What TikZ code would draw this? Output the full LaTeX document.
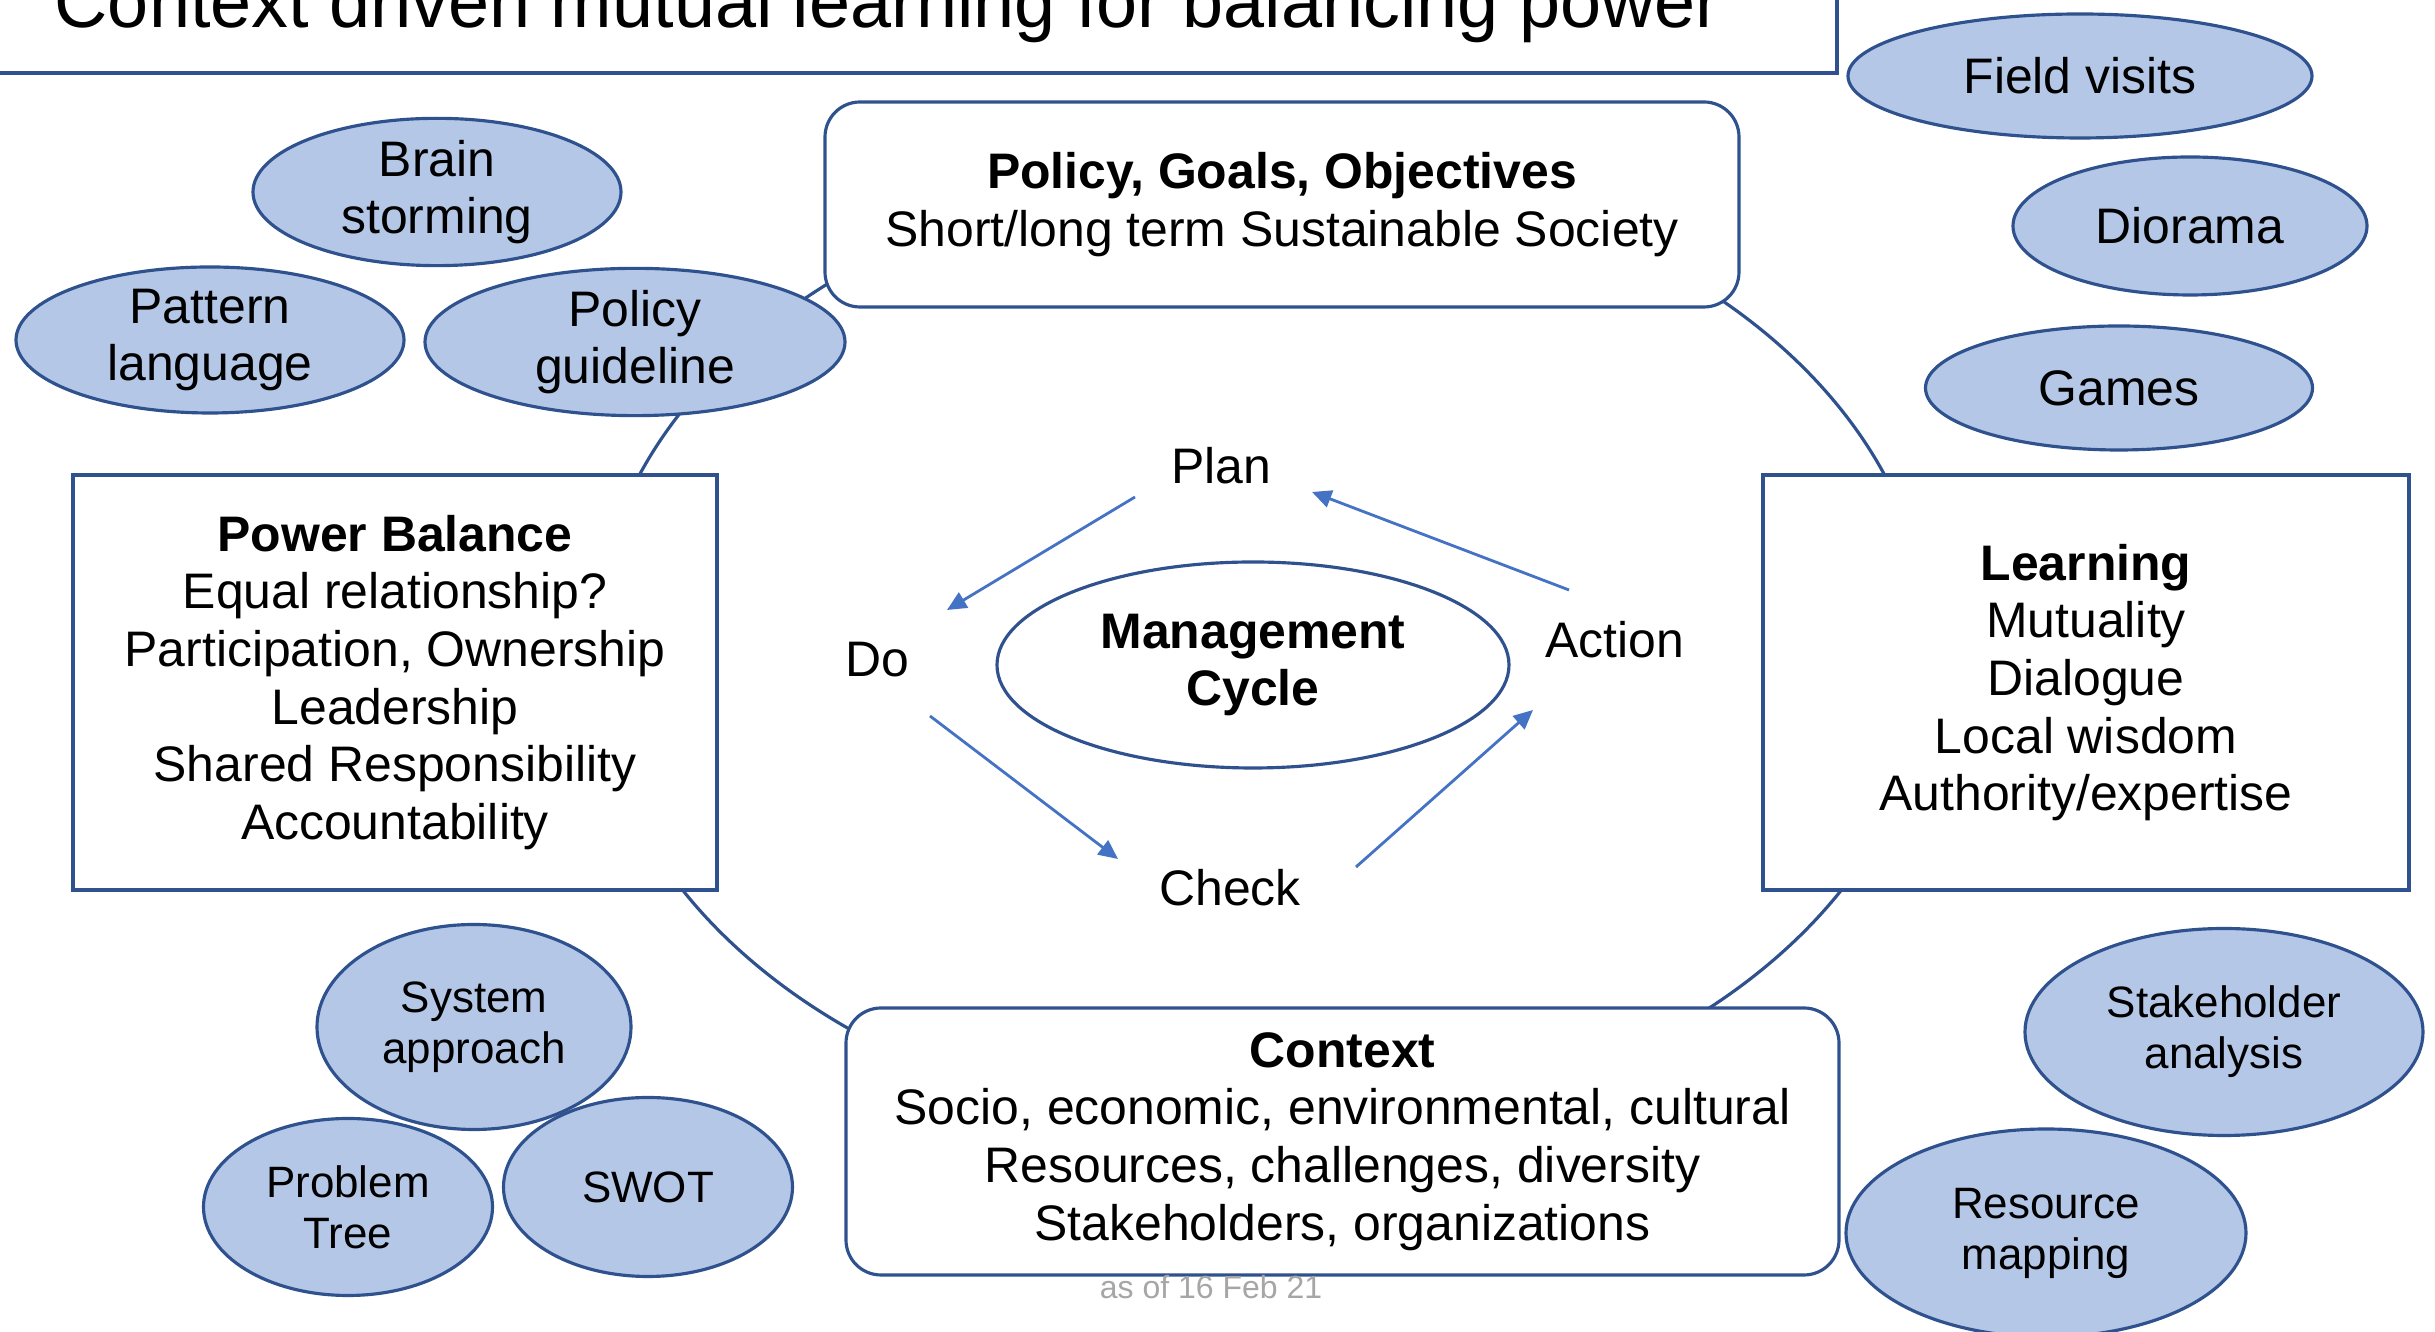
\documentclass[tikz,border=0pt]{standalone}
\usepackage{fontspec}
\setmainfont{Liberation Sans}
\usetikzlibrary{shapes.geometric,arrows.meta,calc}

\definecolor{boxline}{HTML}{2F528F}
\definecolor{toolfill}{HTML}{B4C7E7}
\definecolor{cyclearrow}{HTML}{4472C4}
\definecolor{notegray}{HTML}{A6A6A6}

\newcommand\txtbody{\fontsize{14.2pt}{16.4pt}\selectfont}
\newcommand\txtsmall{\fontsize{12.5pt}{14.5pt}\selectfont}
\newcommand\txttitle{\fontsize{21pt}{25pt}\selectfont}
\newcommand\txtnote{\fontsize{9.1pt}{11pt}\selectfont}

\begin{document}
\begin{tikzpicture}[x=1cm,y=-1cm,
  outline/.style={draw=boxline, line width=0.9pt},
  frame/.style={outline, fill=white, align=center, inner sep=0pt, font=\txtbody},
  roundframe/.style={frame, rounded corners=0.35cm},
  tool/.style={ellipse, outline, fill=toolfill, inner sep=0pt, align=center, font=\txtbody},
  smalltool/.style={tool, font=\txtsmall},
  stage/.style={inner sep=0pt, font=\txtbody},
  cyc/.style={draw=cyclearrow, line width=0.8pt, -{Triangle[length=5.5pt,width=5pt]}},
]
\useasboundingbox (0,0) rectangle (24.35,13.32);
\fill[white] (0,0) rectangle (24.35,13.32);

% title banner
\draw[boxline, line width=1.4pt] (-0.3,-0.3) rectangle (18.37,0.73);
\node[anchor=base west, inner sep=0pt, font=\txttitle] (title) at (0.54,0.28)
  {Context driven mutual learning for balancing power};

% ring linking the four themes
\draw[boxline, line width=0.9pt] (12.62,6.50) ellipse [x radius=6.68cm, y radius=4.82cm];

% the four theme boxes
\node[roundframe, minimum width=9.14cm, minimum height=2.05cm] (policy) at (12.82,2.045)
  {\textbf{Policy, Goals, Objectives}\\Short/long term Sustainable Society};
\node[roundframe, minimum width=9.93cm, minimum height=2.67cm] (context) at (13.425,11.415)
  {\textbf{Context}\\Socio, economic, environmental, cultural\\Resources, challenges, diversity\\Stakeholders, organizations};
\node[frame, minimum width=6.44cm, minimum height=4.15cm] (power) at (3.95,6.825)
  {\textbf{Power Balance}\\Equal relationship?\\Participation, Ownership\\Leadership\\Shared Responsibility\\Accountability};
\node[frame, minimum width=6.46cm, minimum height=4.15cm] (learning) at (20.86,6.825)
  {\textbf{Learning}\\Mutuality\\Dialogue\\Local wisdom\\Authority/expertise};

% management cycle
\node[ellipse, outline, fill=white, minimum width=5.12cm, minimum height=2.06cm, inner sep=0pt,
  align=center, font=\txtbody\bfseries] (mc) at (12.53,6.65) {Management\\Cycle};
\node[stage] (plan) at (12.21,4.66) {Plan};
\node[stage] (do) at (8.77,6.60) {Do};
\node[stage] (check) at (12.30,8.88) {Check};
\node[stage] (action) at (16.15,6.40) {Action};

\draw[cyc] ($(plan)+(-0.86,0.31)$) -- ($(do)+(0.70,-0.50)$);
\draw[cyc] ($(do)+(0.53,0.56)$) -- ($(check)+(-1.12,-0.29)$);
\draw[cyc] ($(check)+(1.26,-0.21)$) -- ($(action)+(-0.82,0.70)$);
\draw[cyc] ($(action)+(-0.46,-0.50)$) -- ($(plan)+(0.91,0.26)$);

% methods and tools
\node[tool, minimum width=3.68cm, minimum height=1.29cm] (brain) at (4.37,1.92) {Brain\\storming};
\node[tool, minimum width=3.88cm, minimum height=1.46cm] (pattern) at (2.10,3.40) {Pattern\\language};
\node[tool, minimum width=4.20cm, minimum height=1.46cm] (guide) at (6.35,3.42) {Policy\\guideline};

\node[tool, minimum width=4.64cm, minimum height=1.24cm] (field) at (20.80,0.76) {Field visits};
\node[tool, minimum width=3.54cm, minimum height=1.38cm] (diorama) at (21.90,2.26) {Diorama};
\node[tool, minimum width=3.87cm, minimum height=1.24cm] (games) at (21.19,3.88) {Games};

\node[smalltool, minimum width=3.14cm, minimum height=2.05cm] (system) at (4.74,10.27) {System\\approach};
\node[smalltool, minimum width=2.89cm, minimum height=1.77cm] (tree) at (3.48,12.07) {Problem\\Tree};
\node[smalltool, minimum width=2.89cm, minimum height=1.79cm] (swot) at (6.48,11.87) {SWOT};

\node[smalltool, minimum width=3.98cm, minimum height=2.07cm] (stake) at (22.24,10.32) {Stakeholder\\analysis};
\node[smalltool, minimum width=4.00cm, minimum height=2.08cm] (resource) at (20.46,12.33) {Resource\\mapping};

% date stamp
\node[inner sep=0pt, text=notegray, font=\txtnote] (stamp) at (12.11,12.87) {as of 16 Feb 21};
\end{tikzpicture}
\end{document}
